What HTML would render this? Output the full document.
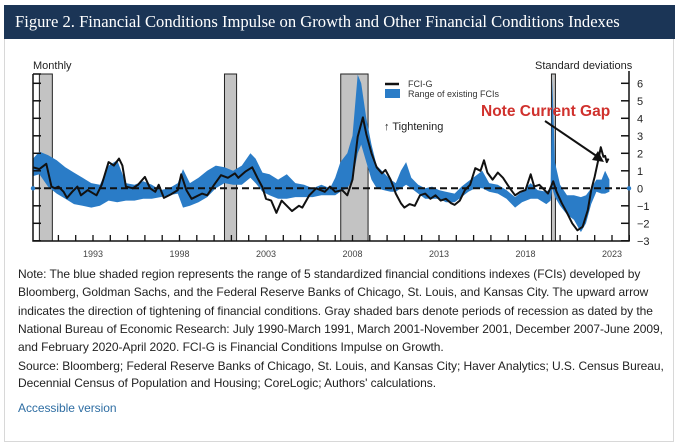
<!DOCTYPE html>
<html><head><meta charset="utf-8"><style>
body{margin:0;width:680px;height:448px;background:#fff;font-family:"Liberation Sans",sans-serif;overflow:hidden;position:relative}
#panel{position:absolute;left:4px;top:5px;width:670px;height:437px;border:1px solid #d8d8d8;border-top:none;box-sizing:border-box}
#hdr{position:absolute;left:4px;top:5px;width:671px;height:34px;background:#1b3556;color:#fff;font-family:"Liberation Serif",serif;font-size:16.6px;line-height:34px;padding-left:11px;box-sizing:border-box;white-space:nowrap}
.note{position:absolute;left:18px;font-size:12px;color:#222;line-height:18.3px;width:660px;white-space:nowrap;letter-spacing:-0.05px}
</style></head><body>
<div id="panel"></div>
<div id="hdr">Figure 2. Financial Conditions Impulse on Growth and Other Financial Conditions Indexes</div>
<svg id="chart" width="680" height="448" style="position:absolute;left:0;top:0"></svg>
<div class="note" style="top:265px">Note: The blue shaded region represents the range of 5 standardized financial conditions indexes (FCIs) developed by<br>Bloomberg, Goldman Sachs, and the Federal Reserve Banks of Chicago, St. Louis, and Kansas City. The upward arrow<br>indicates the direction of tightening of financial conditions. Gray shaded bars denote periods of recession as dated by the<br>National Bureau of Economic Research: July 1990-March 1991, March 2001-November 2001, December 2007-June 2009,<br>and February 2020-April 2020. FCI-G is Financial Conditions Impulse on Growth.</div>
<div class="note" style="top:358px;line-height:17px">Source: Bloomberg; Federal Reserve Banks of Chicago, St. Louis, and Kansas City; Haver Analytics; U.S. Census Bureau,<br>Decennial Census of Population and Housing; CoreLogic; Authors' calculations.</div>
<div class="note" style="top:399px;color:#2f6ea3">Accessible version</div>
<script>
const fciYears=[1990.13,1990.5,1990.9,1991.2,1991.4,1991.6,1991.9,1992.1,1992.4,1992.7,1992.9,1993.3,1993.8,1994.1,1994.5,1994.8,1995.1,1995.3,1995.5,1995.9,1996.2,1996.6,1996.9,1997.2,1997.4,1997.7,1998.1,1998.5,1998.7,1999.0,1999.3,1999.9,2000.2,2000.6,2001.0,2001.4,2001.8,2002.0,2002.4,2002.8,2003.1,2003.4,2003.6,2003.9,2004.2,2004.5,2004.8,2005.1,2005.5,2005.7,2006.1,2006.5,2007.0,2007.3,2007.6,2008.0,2008.3,2008.6,2008.9,2009.2,2009.4,2009.7,2010.0,2010.3,2010.5,2010.8,2011.1,2011.4,2011.6,2011.9,2012.2,2012.5,2012.8,2013.1,2013.4,2013.7,2014.0,2014.3,2014.5,2014.8,2015.1,2015.4,2015.7,2016.0,2016.2,2016.4,2016.7,2017.0,2017.3,2017.7,2018.0,2018.3,2018.6,2018.9,2019.1,2019.4,2019.7,2019.9,2020.2,2020.4,2020.7,2021.0,2021.3,2021.6,2021.9,2022.2,2022.4,2022.6,2022.8,2022.95,2023.1,2023.2,2023.3,2023.4];
const fciValues=[1.2,1.1,1.4,0.1,0.0,0.1,-0.2,-0.55,-0.2,0.1,-0.4,-0.1,-0.4,0.2,1.5,1.3,1.7,1.3,0.1,0.0,0.2,0.65,0.0,-0.2,0.2,-0.55,-0.35,-0.1,0.8,-0.1,-0.6,-0.3,-0.4,0.2,0.75,0.6,0.85,0.6,0.95,1.2,0.6,0.05,-0.6,-0.7,-1.4,-0.7,-1.0,-1.3,-1.0,-1.1,-0.4,0.0,-0.2,0.1,-0.2,-0.1,-0.4,0.5,2.95,4.05,3.1,2.0,1.2,0.85,1.05,0.5,-0.3,-0.85,-1.1,-0.9,-1.0,-0.4,-0.3,-0.6,-0.4,-0.7,-0.6,-0.85,-0.95,-0.7,-0.1,0.2,1.15,1.0,1.6,0.9,0.5,0.9,0.6,0.0,-0.4,-0.2,-0.1,0.8,0.1,0.2,-0.1,-0.3,0.4,-0.2,-0.85,-1.4,-2.0,-2.4,-2.2,-1.25,-0.1,0.67,1.6,2.35,1.8,1.85,1.5,1.7];
const bandYears=[1990.13,1990.5,1991.0,1991.5,1992.0,1992.5,1993.0,1993.5,1994.0,1994.5,1995.0,1995.5,1996.0,1996.5,1997.0,1997.5,1998.0,1998.5,1998.8,1999.2,1999.7,2000.2,2000.7,2001.2,2001.7,2002.2,2002.7,2003.0,2003.4,2003.8,2004.3,2004.8,2005.3,2005.8,2006.3,2006.8,2007.3,2007.6,2007.9,2008.3,2008.6,2008.9,2009.1,2009.4,2009.7,2010.0,2010.4,2010.8,2011.1,2011.4,2011.7,2012.0,2012.4,2012.8,2013.2,2013.6,2014.0,2014.5,2014.9,2015.3,2015.7,2016.1,2016.5,2017.0,2017.5,2018.0,2018.4,2018.9,2019.3,2019.8,2020.05,2020.15,2020.3,2020.6,2021.0,2021.4,2021.8,2022.1,2022.4,2022.7,2023.0,2023.2,2023.45];
const bandLow=[0.7,0.8,0.1,-0.3,-0.6,-0.9,-1.0,-1.1,-1.0,-0.7,-0.8,-0.7,-0.7,-0.6,-0.6,-0.5,-0.4,-0.3,-1.1,-1.0,-0.8,-0.5,0.0,0.3,0.2,0.2,0.6,0.3,-0.2,-0.4,-0.6,-0.6,-0.5,-0.5,-0.5,-0.4,-0.4,-0.4,-0.2,0.0,0.5,2.0,2.5,1.5,0.5,0.0,-0.1,-0.2,-0.2,0.0,0.2,0.0,-0.3,-0.6,-0.6,-0.6,-0.8,-0.8,-0.5,-0.2,0.0,0.0,-0.2,-0.3,-0.6,-1.1,-0.8,-0.6,-0.6,-0.9,-0.7,0.0,-0.5,-1.0,-1.5,-1.8,-2.5,-2.0,-0.9,-0.2,-0.3,-0.3,-0.2];
const bandHigh=[1.7,2.1,1.9,1.6,1.2,0.9,0.6,0.3,0.2,1.3,1.6,0.3,0.2,0.4,0.2,-0.1,0.0,0.3,1.1,0.3,0.6,1.0,1.3,1.2,1.0,1.3,2.0,1.7,0.9,0.8,0.5,0.8,0.3,0.2,0.0,0.2,0.0,0.6,1.5,2.0,3.0,6.5,6.0,4.0,2.5,1.3,0.9,0.5,0.3,1.0,1.5,0.6,0.2,0.0,0.1,-0.1,-0.2,-0.3,0.1,0.4,0.7,1.0,0.3,0.2,-0.1,-0.5,-0.2,0.3,-0.1,-0.2,0.0,6.3,1.5,0.2,-0.4,-0.4,-0.5,-0.4,0.0,0.5,0.5,1.0,0.5];
const recessions=[[1990.5,1991.25],[2001.2,2001.9],[2007.92,2009.5],[2020.1,2020.33]];
const yTicks=[6,5,4,3,2,1,0,-1,-2,-3];
const xLabels=[1993,1998,2003,2008,2013,2018,2023];

const NS='http://www.w3.org/2000/svg';
const svg=document.getElementById('chart');
const L=33,R=629,T=74,B=241;
const X=t=>93+(t-1993.6)*17.3;
const Y=v=>188.3-v*17.5;
function mk(tag,attrs){const e=document.createElementNS(NS,tag);for(const k in attrs)e.setAttribute(k,attrs[k]);svg.appendChild(e);return e;}
function txt(s,x,y,size,extra){const e=mk('text',Object.assign({x:x,y:y,'font-size':size,'font-family':'Liberation Sans, sans-serif',fill:'#222'},extra||{}));e.textContent=s;return e;}

recessions.forEach(r=>{
 const e=mk('rect',{x:X(r[0]),y:T,width:X(r[1])-X(r[0]),height:B-T,fill:'#c3c3c3',stroke:'#222','stroke-width':1});
 
 
});
let d='';
bandYears.forEach((t,i)=>{d+=(i?'L':'M')+X(t).toFixed(1)+','+Math.max(T,Y(bandHigh[i])).toFixed(1);});
for(let i=bandYears.length-1;i>=0;i--)d+='L'+X(bandYears[i]).toFixed(1)+','+Y(bandLow[i]).toFixed(1);
const band=mk('path',{d:d+'Z',fill:'#2a7cc7'});


const zero=mk('line',{x1:L,x2:620,y1:Y(0),y2:Y(0),stroke:'#111','stroke-width':2,'stroke-dasharray':'7,4'});


let p='';
fciYears.forEach((t,i)=>{p+=(i?'L':'M')+X(t).toFixed(1)+','+Y(fciValues[i]).toFixed(1);});
const line=mk('path',{d:p,fill:'none',stroke:'#111','stroke-width':2,'stroke-linejoin':'round'});


const ax=mk('path',{d:`M${L},${T}V${B}H${R}V${T-3}`,fill:'none',stroke:'#111','stroke-width':1.5});


mk('line',{x1:L,x2:L+8,y1:T,y2:T,stroke:'#111','stroke-width':1.5});
yTicks.forEach(v=>{
 mk('line',{x1:L,x2:L+8,y1:Y(v),y2:Y(v),stroke:'#111','stroke-width':1.5});
 mk('line',{x1:R-8,x2:R,y1:Y(v),y2:Y(v),stroke:'#111','stroke-width':1.5});
 const tl=txt((v<0?'\u2212':'')+Math.abs(v),637,Y(v)+4,11);
 
 
});
for(let yr=1991;yr<=2024;yr++){mk('line',{x1:X(yr+0.6),x2:X(yr+0.6),y1:B,y2:B-6,stroke:'#111','stroke-width':1.3});}
xLabels.forEach(yr=>{
 const tl=txt(String(yr),X(yr+0.6),257,9,{'text-anchor':'middle',fill:'#444'});
 
 
});
mk('circle',{cx:L,cy:Y(0),r:2.2,fill:'#2a7cc7'});
mk('circle',{cx:R,cy:Y(0),r:2.2,fill:'#2a7cc7'});
const m=txt('Monthly',33,69,11);
const sd=txt('Standard deviations',535,69,11);
mk('line',{x1:385,x2:399,y1:84,y2:84,stroke:'#111','stroke-width':2.5});
const l1=txt('FCI-G',408,87,9,{fill:'#333'});
mk('rect',{x:385,y:89,width:15,height:9,fill:'#2a7cc7'});
const l2=txt('Range of existing FCIs',408,97,9,{fill:'#333'});
const tg=txt('\u2191 Tightening',384,130,11);
const ng=txt('Note Current Gap',481,116,15.5,{fill:'#d0312d','font-weight':'bold'});
const ar=mk('line',{x1:545,y1:121,x2:598,y2:157,stroke:'#111','stroke-width':2});


mk('polygon',{points:'604,162 592,160 598,151',fill:'#111'});
</script>
</body></html>
